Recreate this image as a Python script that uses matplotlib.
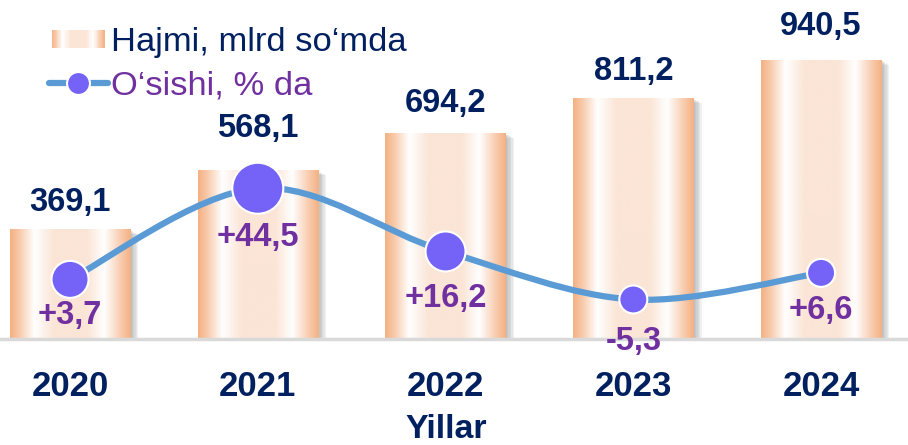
import matplotlib
matplotlib.use('Agg')
import matplotlib.pyplot as plt
import matplotlib.patheffects as pe
import numpy as np
from matplotlib.colors import LinearSegmentedColormap
from matplotlib.legend_handler import HandlerBase
from matplotlib.lines import Line2D
from matplotlib.patches import PathPatch, Rectangle
from matplotlib.path import Path

years = ['2020', '2021', '2022', '2023', '2024']
volume = [369.1, 568.1, 694.2, 811.2, 940.5]      # mlrd so'm
growth = [3.7, 44.5, 16.2, -5.3, 6.6]             # %
volume_labels = ['369,1', '568,1', '694,2', '811,2', '940,5']
growth_labels = ['+3,7', '+44,5', '+16,2', '-5,3', '+6,6']

NAVY = '#002060'
PURPLE = '#7030A0'
LINE = '#5B9BD5'
DOT = '#7563F7'

plt.rcParams['font.family'] = ['Liberation Sans', 'DejaVu Sans']

# horizontal "cylinder" shading of the bars
bar_cmap = LinearSegmentedColormap.from_list('bar', [
    (0.0, '#F4B183'), (0.08, '#F8CBAD'), (0.2, '#FFFFFF'), (0.36, '#FBE5D6'),
    (0.64, '#FBE5D6'), (0.78, '#FFFFFF'), (0.92, '#F8CBAD'), (1.0, '#F4B183')])
grad = np.linspace(0, 1, 256).reshape(1, -1)


class GradientHandler(HandlerBase):
    def create_artists(self, legend, orig_handle, xdescent, ydescent,
                       width, height, fontsize, trans):
        n = 40
        h = 13
        inset = 2
        y0 = -ydescent + (height - h) / 2
        w = width - 2 * inset
        arts = []
        for i in range(n):
            arts.append(Rectangle((-xdescent + inset + w * i / n, y0), w / n * 1.05, h,
                                  facecolor=bar_cmap((i + 0.5) / n), edgecolor='none',
                                  transform=trans))
        return arts


fig = plt.figure(figsize=(9.08, 4.45), dpi=100)
ax = fig.add_axes([0, 106 / 445, 1, 339 / 445])
ax.patch.set_visible(False)
for s in ax.spines.values():
    s.set_visible(False)

x = np.arange(len(years))
shadow = [pe.SimplePatchShadow(offset=(k, -0.6 * k), shadow_rgbFace='#7f7f7f', alpha=0.1)
          for k in (1, 2, 3, 4, 5, 6)]
bars = ax.bar(x, volume, width=0.64, facecolor='white', edgecolor='none', zorder=1)
for b in bars:
    b.set_path_effects(shadow)
    x0, w, h = b.get_x(), b.get_width(), b.get_height()
    im = ax.imshow(grad, cmap=bar_cmap, extent=[x0, x0 + w, 0, h], aspect='auto',
                   zorder=2, interpolation='bicubic')
    im.set_clip_path(b)

ax.axhline(0, color='#D9D9D9', lw=2.5, zorder=3, clip_on=False)
ax.set_xlim(-0.373, 4.463)
ax.set_ylim(0, 1141.8)
ax.set_yticks([])
ax.set_xticks(x, years)
ax.tick_params(axis='x', length=0, pad=22, labelsize=25, labelcolor=NAVY)
for t in ax.get_xticklabels():
    t.set_fontweight('bold')

gap_px = [18, 33, 21, 18, 25]
for xi, v, lab, g in zip(x, volume, volume_labels, gap_px):
    ax.annotate(lab, (xi, v), xytext=(0, g * 0.72), textcoords='offset points',
                ha='center', va='baseline', fontsize=23.5, fontweight='bold', color=NAVY)

# growth line on its own scale
ax2 = ax.twinx()
ax2.set_ylim(-23.0, 128.8)
ax2.axis('off')

pts = np.column_stack([x, growth]).astype(float)
verts = [pts[0]]
codes = [Path.MOVETO]
for i in range(len(pts) - 1):
    p0 = pts[i - 1] if i > 0 else pts[i]
    p3 = pts[i + 2] if i + 2 < len(pts) else pts[i + 1]
    verts += [pts[i] + (pts[i + 1] - p0) / 6, pts[i + 1] - (p3 - pts[i]) / 6, pts[i + 1]]
    codes += [Path.CURVE4] * 3
ax2.add_patch(PathPatch(Path(verts, codes), facecolor='none', edgecolor=LINE, lw=4.5,
                        capstyle='round', zorder=4))

dot_sizes = [710, 1348, 829, 406, 406]
ax2.scatter(x, growth, s=dot_sizes, color=DOT, edgecolor='white', linewidth=1.5, zorder=5)

label_drop_px = [36, 49, 47, 42, 38]
for xi, g, lab, d in zip(x, growth, growth_labels, label_drop_px):
    ax2.annotate(lab, (xi, g), xytext=(0, -d * 0.72), textcoords='offset points',
                 ha='center', va='center', fontsize=23.5, fontweight='bold', color=PURPLE,
                 zorder=6, annotation_clip=False)

bar_proxy = Rectangle((0, 0), 1, 1)
line_proxy = Line2D([], [], color=LINE, lw=4.5, marker='o', ms=16.5, mfc=DOT,
                    mec='white', mew=1.5, solid_capstyle='round')
leg = fig.legend([bar_proxy, line_proxy], ['Hajmi, mlrd so\u2018mda', 'O\u2018sishi, % da'],
                 handler_map={bar_proxy: GradientHandler()}, loc='upper left',
                 bbox_to_anchor=(49 / 908, 1 - 27 / 445), frameon=False, fontsize=24.8,
                 handlelength=1.7, handletextpad=0.1, labelspacing=0.36,
                 borderpad=0, borderaxespad=0)
leg.get_texts()[0].set_color(NAVY)
leg.get_texts()[1].set_color(PURPLE)

fig.text(446 / 908, 7 / 445, 'Yillar', ha='center', va='baseline', fontsize=24.5,
         fontweight='bold', color=NAVY)

fig.savefig('out.png', dpi=100)
